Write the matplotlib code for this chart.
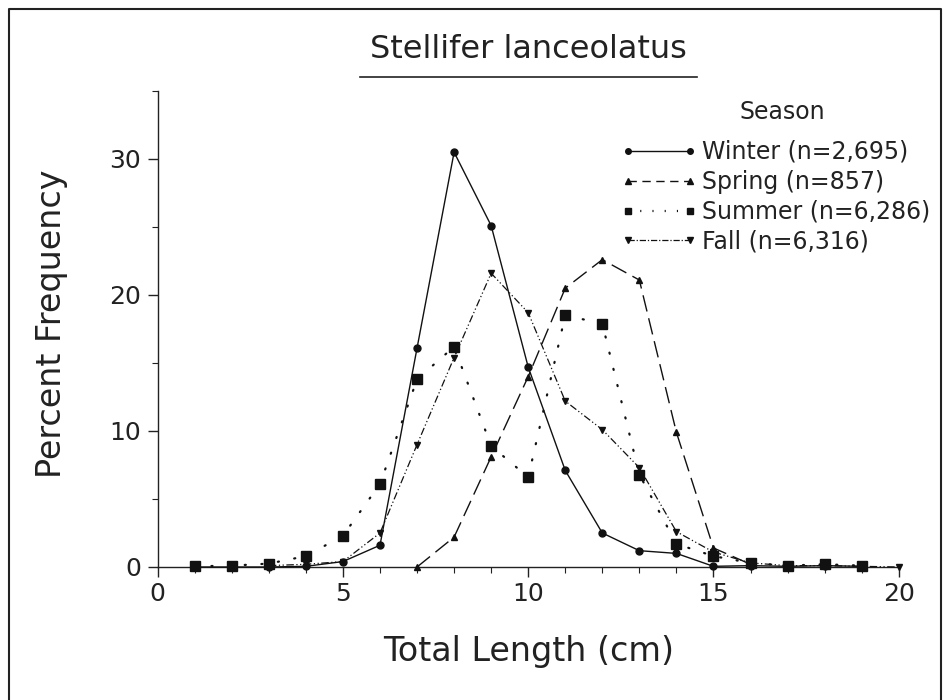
import matplotlib
matplotlib.use("Agg")
import matplotlib.pyplot as plt
from matplotlib.lines import Line2D
from matplotlib.ticker import MultipleLocator

plt.rcParams['font.family'] = ['DejaVu Sans']

winter_x = list(range(1, 20))
winter_y = [0.0, 0.0, 0.0, 0.05, 0.4, 1.6, 16.1, 30.5, 25.1, 14.7, 7.1, 2.5, 1.2, 1.0, 0.05, 0.1, 0.05, 0.1, 0.05]
spring_x = list(range(7, 17))
spring_y = [0.0, 2.2, 8.1, 14.0, 20.5, 22.6, 21.1, 9.9, 1.4, 0.2]
summer_x = list(range(1, 20))
summer_y = [0.05, 0.1, 0.25, 0.8, 2.3, 6.1, 13.8, 16.2, 8.9, 6.6, 18.5, 17.9, 6.8, 1.7, 0.8, 0.3, 0.1, 0.2, 0.1]
fall_x = list(range(3, 21))
fall_y = [0.1, 0.2, 0.4, 2.5, 9.0, 15.4, 21.6, 18.7, 12.2, 10.1, 7.3, 2.6, 1.1, 0.3, 0.1, 0.1, 0.05, 0.0]

labels = ["Winter (n=2,695)", "Spring (n=857)", "Summer (n=6,286)", "Fall (n=6,316)"]
x_ticks = [0, 5, 10, 15, 20]
y_ticks = [0, 10, 20, 30]

fig = plt.figure(figsize=(9.5, 7.0), dpi=100)
ax = fig.add_axes([0.166, 0.19, 0.78, 0.68])

c = '#111111'
tc = '#222222'
ax.plot(winter_x, winter_y, '-', color=c, lw=1.0, marker='o', ms=5, clip_on=False, zorder=4)
ax.plot(spring_x, spring_y, color=c, lw=1.0, dashes=(12, 5), marker='^', ms=5, clip_on=False, zorder=4)
ax.plot(summer_x, summer_y, color=c, lw=1.6, dashes=(0.5, 7), dash_capstyle='round', marker='s', ms=7, clip_on=False, zorder=3)
ax.plot(fall_x, fall_y, color=c, lw=0.9, dashes=(6, 2, 1, 2, 1, 2), marker='v', ms=5, clip_on=False, zorder=4)

ax.set_xlim(0, 20)
ax.set_ylim(0, 35)
ax.set_xticks(x_ticks)
ax.set_yticks(y_ticks)
ax.xaxis.set_minor_locator(MultipleLocator(1))
ax.yaxis.set_minor_locator(MultipleLocator(5))
ax.tick_params(which='major', direction='out', length=7, width=1, labelsize=18, colors=tc)
ax.tick_params(axis='y', which='major', pad=5)
ax.tick_params(axis='x', which='major', pad=4)
ax.tick_params(which='minor', direction='out', length=4, width=0.8, colors=tc)
for s in ['top', 'right']:
    ax.spines[s].set_visible(False)
for s in ['left', 'bottom']:
    ax.spines[s].set_linewidth(1.0)
    ax.spines[s].set_color(tc)

# Axis labels
fig.text(0.556, 0.070, "Total Length (cm)", fontsize=24, ha='center', va='center', color=tc)
fig.text(0.054, 0.538, "Percent Frequency", fontsize=24, ha='center', va='center', rotation=90, color=tc)

# Title with underline
fig.text(0.556, 0.929, "Stellifer lanceolatus", fontsize=23, ha='center', va='center', color=tc)
fig.add_artist(Line2D([0.379, 0.734], [0.890, 0.890], color=tc, lw=1.2))

# Legend
fig.text(0.824, 0.840, "Season", fontsize=17, ha='center', va='center', color=tc)
handles = [
    Line2D([], [], color=c, lw=1.0, marker='o', ms=4),
    Line2D([], [], color=c, lw=1.0, dashes=(6, 4), marker='^', ms=4),
    Line2D([], [], color=c, lw=1.6, dashes=(0.5, 5), marker='s', ms=5),
    Line2D([], [], color=c, lw=0.9, dashes=(5, 1.5, 1, 1.5), marker='v', ms=4),
]
leg = fig.legend(handles, labels, loc='upper left', bbox_to_anchor=(0.654, 0.800),
                 bbox_transform=fig.transFigure,
                 frameon=False, fontsize=17, numpoints=2, handlelength=3.2,
                 handletextpad=0.22, labelspacing=0.25, borderaxespad=0, borderpad=0)
for t in leg.get_texts():
    t.set_color(tc)

# Frame around the figure
fig.add_artist(Line2D([0.0095, 0.0095, 0.991, 0.991], [0.0, 0.987, 0.987, 0.0], color=tc, lw=1.5))

fig.savefig("out.png", dpi=100, facecolor='white')
